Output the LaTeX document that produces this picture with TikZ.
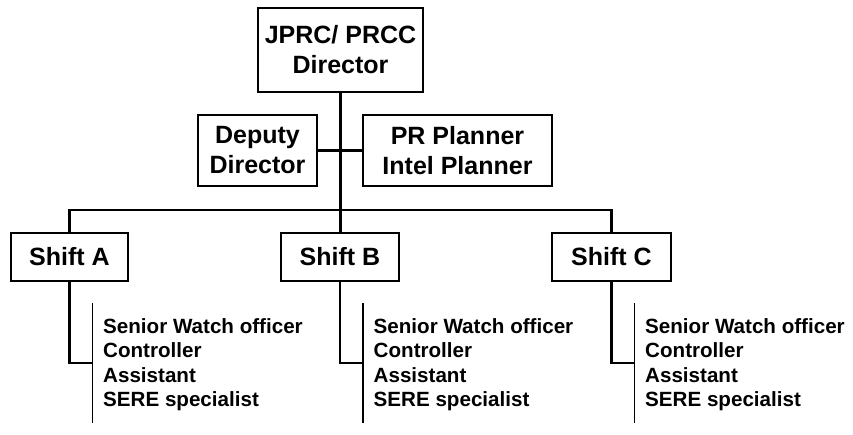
\documentclass[tikz,border=0pt]{standalone}
\usepackage{fontspec}
\setmainfont{Liberation Sans}
\begin{document}
\begin{tikzpicture}[x=1pt,y=-1pt,
  box/.style={draw,line width=2.8pt,inner sep=0pt,align=center,font=\fontsize{25}{30}\selectfont\bfseries},
  shiftbox/.style={box,minimum height=48pt},
  link/.style={line width=2.5pt},
  barline/.style={line width=1.8pt},
  members/.style={anchor=base west,inner sep=0pt,font=\fontsize{20.6}{24.5}\selectfont\bfseries}]
\useasboundingbox (0,0) rectangle (853,434);
% top level
\node[box,minimum width=165pt,minimum height=84pt] (top) at (340.5,50) {JPRC/ PRCC\\Director};
\node[box,minimum width=119pt,minimum height=71pt] (dep) at (257.5,150.5) {Deputy\\Director};
\node[box,minimum width=189pt,minimum height=71pt] (plan) at (457.5,150.5) {PR Planner\\Intel Planner};
% shifts
\node[shiftbox,minimum width=117pt] (A) at (69.5,257) {Shift A};
\node[shiftbox,minimum width=118pt] (B) at (340,257) {Shift B};
\node[shiftbox,minimum width=119pt] (C) at (611.5,257) {Shift C};
% connectors
\draw[link] (top.south) -- (top.south |- B.north);
\draw[link] (dep.east) -- (plan.west);
\coordinate (hbar) at (340,210);
\draw[link] (A.north) -- (A.north |- hbar) -| (C.north);
% member lists
\foreach \s/\x in {A/92.5,B/363,C/634.5}{
  \coordinate (\s top) at (\x,303);
  \coordinate (\s bot) at (\x,423);
  \coordinate (\s join) at (\x,363);
  \draw[barline] (\s top) -- (\s bot);
  \draw[link] (\s.south) |- (\s join);
  \node[members] (\s list) at (\x+10.5,333) {\begin{tabular}[t]{@{}l@{}}Senior Watch officer\\Controller\\Assistant\\SERE specialist\end{tabular}};
}
\end{tikzpicture}
\end{document}
